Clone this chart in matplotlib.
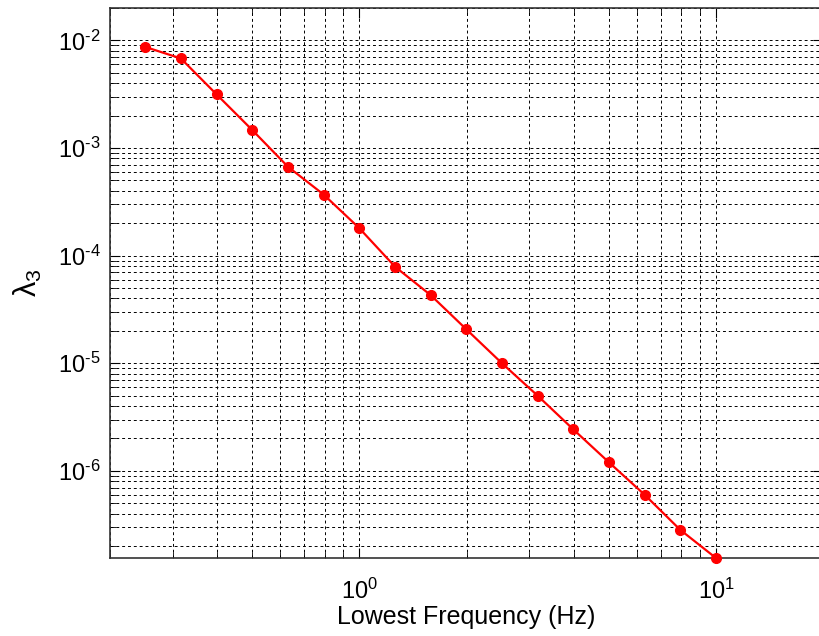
import matplotlib.pyplot as plt
import numpy as np
from matplotlib import rcParams
from matplotlib.ticker import FuncFormatter

rcParams['font.family'] = 'sans-serif'
rcParams['font.sans-serif'] = ['Liberation Sans', 'DejaVu Sans']
rcParams['mathtext.fontset'] = 'custom'
rcParams['mathtext.rm'] = 'Liberation Sans'
rcParams['mathtext.it'] = 'Liberation Sans:italic'
rcParams['font.size'] = 16

# lowest frequency (Hz) and lambda_3
freq = [0.251, 0.316, 0.398, 0.501, 0.631, 0.794, 1.0, 1.259, 1.585,
        1.995, 2.512, 3.162, 3.981, 5.012, 6.310, 7.943, 10.0]
lam3 = [8.7e-3, 6.8e-3, 3.15e-3, 1.47e-3, 6.7e-4, 3.7e-4, 1.8e-4, 7.9e-5,
        4.3e-5, 2.07e-5, 1.0e-5, 5.0e-6, 2.43e-6, 1.2e-6, 6.0e-7, 2.83e-7,
        1.55e-7]


def matlab_pow(v, pos):
    # MATLAB style 10^{-n}, with a hyphen rather than a minus sign
    e = int(np.round(np.log10(v)))
    return r'$\mathregular{10^{\text{%d}}}$' % e


fig = plt.figure(figsize=(8.19, 6.36), dpi=100)
ax = fig.add_axes([0.1343, 0.1226, 0.871, 0.8648])

ax.loglog(freq, lam3, color='red', lw=1.6, marker='o', ms=7, mec='red', mfc='red',
          zorder=5, clip_on=False)

ax.set_xlim(0.2, 20)
ax.set_ylim(lam3[-1], 0.02)
ax.xaxis.set_major_formatter(FuncFormatter(matlab_pow))
ax.yaxis.set_major_formatter(FuncFormatter(matlab_pow))

ax.grid(True, which='both', color='black', linestyle=(0, (3, 3)), linewidth=0.7)
ax.tick_params(which='both', direction='in', top=True, right=True, labelsize=17)
ax.tick_params(which='major', length=7)
ax.tick_params(which='minor', length=4)
ax.tick_params(axis='x', which='major', pad=15)
ax.tick_params(axis='y', which='major', pad=7)
for s in ax.spines.values():
    s.set_linewidth(1.2)
    s.set_color('#333333')

ax.set_xlabel('Lowest Frequency (Hz)', fontsize=18, labelpad=1)
ax.set_ylabel(r'$\mathregular{\lambda_3}$', fontsize=22, labelpad=10)

fig.savefig('out.png', dpi=100)
